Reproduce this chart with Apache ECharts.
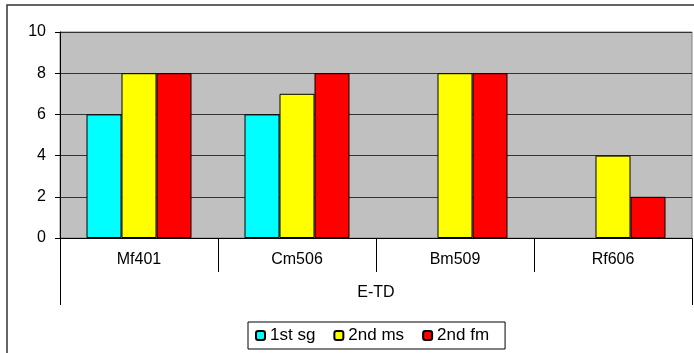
<!DOCTYPE html>
<html>
<head>
<meta charset="utf-8">
<script src="https://cdn.jsdelivr.net/npm/echarts@6/dist/echarts.min.js"></script>
<style>
html,body{margin:0;padding:0;background:#fff;}
#c{width:694px;height:353px;}
</style>
</head>
<body>
<div id="c"></div>
<script>
const categories = ['Mf401', 'Cm506', 'Bm509', 'Rf606'];
const groupLabel = ['E-TD'];
const seriesNames = ['1st sg', '2nd ms', '2nd fm'];
const firstSg = [6, 6, null, null];
const secondMs = [8, 7, 8, 4];
const secondFm = [8, 8, 8, 2];
const colors = ['#00FFFF', '#FFFF00', '#FF0000'];

const font = 'Liberation Sans, Arial, sans-serif';
const chart = echarts.init(document.getElementById('c'));
const values = [firstSg, secondMs, secondFm];

chart.setOption({
  animation: false,
  textStyle: { fontFamily: font },
  graphic: [{
    type: 'rect',
    shape: { x: 7, y: 5, width: 720, height: 380 },
    style: { fill: 'none', stroke: '#333', lineWidth: 1.5 },
    z: -1
  }],
  grid: {
    left: 60, top: 32, right: 2, bottom: 115,
    show: true, backgroundColor: '#C0C0C0', borderColor: '#808080', borderWidth: 1
  },
  legend: {
    left: 248, top: 322,
    selectedMode: false,
    data: seriesNames,
    itemWidth: 9, itemHeight: 9, itemGap: 18,
    padding: [5, 16, 5, 7],
    borderColor: '#000', borderWidth: 1,
    textStyle: { fontSize: 17, color: '#000', fontFamily: font }
  },
  xAxis: [{
    type: 'category',
    data: categories,
    position: 'bottom',
    axisLine: { show: true, lineStyle: { color: '#000', width: 1 } },
    axisTick: { show: true, interval: 0, length: 34, lineStyle: { color: '#000' } },
    axisLabel: { margin: 14, fontSize: 16, color: '#000', fontFamily: font }
  }, {
    type: 'category',
    data: groupLabel,
    position: 'bottom',
    axisLine: { show: false },
    axisTick: { show: true, length: 67, lineStyle: { color: '#000' } },
    axisLabel: { margin: 47, fontSize: 16, color: '#000', fontFamily: font }
  }],
  yAxis: {
    type: 'value', min: 0, max: 10, interval: 2,
    axisLine: { show: true, lineStyle: { color: '#000' } },
    axisTick: { show: true, length: 5, lineStyle: { color: '#000' } },
    axisLabel: { margin: 14, fontSize: 16, color: '#000', fontFamily: font },
    splitLine: { show: true, lineStyle: { color: '#333', width: 1 } }
  },
  series: seriesNames.map((n, i) => ({
    name: n, type: 'bar', xAxisIndex: 0,
    data: values[i],
    barWidth: 35, barGap: '0%',
    itemStyle: { color: colors[i], borderColor: '#000', borderWidth: 1 }
  }))
});
</script>
</body>
</html>
